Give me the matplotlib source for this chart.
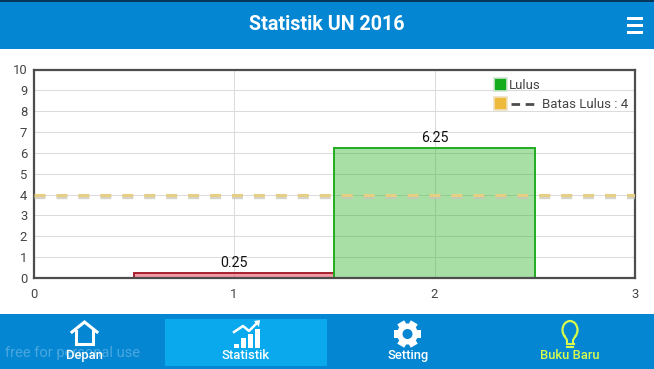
import matplotlib
matplotlib.use("Agg")
import matplotlib.pyplot as plt
from matplotlib.patches import Rectangle, Polygon, Circle, Ellipse
from matplotlib.lines import Line2D
from matplotlib.transforms import ScaledTranslation, Affine2D
import numpy as np

plt.rcParams['font.family'] = ['Roboto', 'DejaVu Sans']
plt.rcParams['lines.scale_dashes'] = False

title = "Statistik UN 2016"
bar_positions = [1, 2]
bar_values = [0.25, 6.25]
bar_labels = ["0.25", "6.25"]
bar_fill = [(0.93, 0.20, 0.30, 0.50), (0.10, 0.68, 0.08, 0.38)]
bar_edge = ["#a5222f", "#22ad22"]
threshold = 4
x_ticks = [0, 1, 2, 3]
y_ticks = list(range(0, 11))
legend_labels = ["Lulus", "Batas Lulus : 4"]
tabs = ["Depan", "Statistik", "Setting", "Buku Baru"]
tab_x = [84, 246, 408, 570]
tab_colors = ["white", "white", "white", "#d6fb4e"]

W, H = 654, 369
fig = plt.figure(figsize=(W / 100, H / 100), dpi=100, facecolor="white")

# Chart
L, R, T, B = 33.5, 635, 69.5, 278
ax = fig.add_axes([L / W, 1 - B / H, (R - L) / W, (B - T) / H])
ax.set_xlim(0, 3)
ax.set_ylim(0, 10)
ax.set_xticks(x_ticks)
ax.set_yticks(y_ticks)
ax.grid(True, color="#dcdcdc", lw=0.75)
ax.set_axisbelow(True)
ax.tick_params(length=0, labelsize=9.4, labelcolor="#444444", pad=4.5)
ax.tick_params(axis="x", pad=7.5)
for s in ax.spines.values():
    s.set_color("#4d4d4d")
    s.set_linewidth(1.6)
ax.bar(bar_positions, bar_values, width=1, color=bar_fill, edgecolor=bar_edge, linewidth=1.4, zorder=2)
for xp, v, t in zip(bar_positions, bar_values, bar_labels):
    ax.annotate(t, (xp, v), xytext=(0, 2.2), textcoords="offset points", ha="center", va="bottom",
                fontsize=10.2, color="#111111", zorder=5)
shadow = ax.axhline(threshold, color="#c8c6b8", alpha=0.75, lw=2.4, ls=(0, (7.9, 7.9)),
                    dash_capstyle="butt", zorder=3)
shadow.set_transform(shadow.get_transform() + ScaledTranslation(0, -2.4 / 100, fig.dpi_scale_trans))
ax.axhline(threshold, color="#e6cf85", alpha=1.0, lw=2.2, ls=(0, (7.9, 7.9)), dash_capstyle="butt", zorder=4)

# Overlay (app chrome, legend)
ov = fig.add_axes([0, 0, 1, 1], facecolor="none")
ov.set_xlim(0, W)
ov.set_ylim(H, 0)
ov.axis("off")

BLUE = "#0486d2"
ov.add_patch(Rectangle((0, 0), W, 49, color=BLUE, lw=0))
ov.add_patch(Rectangle((0, 0), W, 1.5, color="#06365c", lw=0))
ov.text(327, 24, title, color="white", fontsize=14.2, fontweight="bold", ha="center", va="center")
for y in (18, 25, 32):
    ov.add_patch(Rectangle((627, y - 1.5), 16, 3, color="white", lw=0))

ov.add_patch(Rectangle((0, 314), W, 55, color=BLUE, lw=0))
ov.add_patch(Rectangle((165, 319), 162, 47, color="#0aa9ee", lw=0))

# Legend
ov.add_patch(Rectangle((494, 77.5), 13, 13, fc="#14ab1c", ec="#cfe6cf", lw=1.2))
ov.add_patch(Rectangle((494, 96.5), 13, 13, fc="#eeba3c", ec="#f0e2c0", lw=1.2))
ov.text(509, 85.5, legend_labels[0], fontsize=9.5, color="#444444", va="center", ha="left")
ov.add_line(Line2D([511, 537], [103.5, 103.5], color="#4d4d4d", lw=2.0, ls=(0, (6.2, 4.0)), dash_capstyle="butt"))
ov.text(542, 104, legend_labels[1], fontsize=9.5, color="#444444", va="center", ha="left")

# Watermark
ov.text(5, 353, "free for personal use", fontsize=10.6, color="#6fb9e6", alpha=0.65, va="center", ha="left")

# Tab labels
for t, xp, c in zip(tabs, tab_x, tab_colors):
    ov.text(xp, 355.5, t, fontsize=9.4, color=c, ha="center", va="center", fontweight="medium")

# Home icon
ov.add_line(Line2D([72, 84.5, 97], [332, 322, 332], color="white", lw=2.2, solid_joinstyle="miter"))
ov.add_line(Line2D([76, 76, 93, 93], [331, 344, 344, 331], color="white", lw=2.2, solid_joinstyle="miter"))

# Chart icon
for x0, top in zip([234, 241, 248, 254.5], [344, 338, 334, 329]):
    ov.add_patch(Rectangle((x0, top), 5, 347.5 - top, color="white", lw=0))
ov.add_line(Line2D([234, 243, 249, 257], [332, 326, 331, 323], color="white", lw=1.8))
ov.add_patch(Polygon([[254, 321], [260, 320], [259, 327]], color="white", lw=0))

# Gear icon
cx, cy = 407.5, 334
for a in np.arange(0, 180, 60):
    ov.add_patch(Rectangle((cx - 4, cy - 13.5), 8, 27, color="white", lw=0,
                           transform=Affine2D().rotate_deg_around(cx, cy, a + 30) + ov.transData))
ov.add_patch(Circle((cx, cy), 10.5, color="white", lw=0))
ov.add_patch(Circle((cx, cy), 5, color=BLUE, lw=0))

# Bulb icon
bc = tab_colors[3]
ov.add_patch(Ellipse((570, 330), 15, 18, fc="none", ec=bc, lw=1.6))
ov.add_patch(Rectangle((566, 336), 8, 8, color=BLUE, lw=0))
ov.add_line(Line2D([564.5, 567, 567], [336, 340, 343], color=bc, lw=1.5))
ov.add_line(Line2D([575.5, 573, 573], [336, 340, 343], color=bc, lw=1.5))
ov.add_line(Line2D([566.5, 573.5], [343.5, 343.5], color=bc, lw=1.5))
ov.add_line(Line2D([567, 573], [346.5, 346.5], color=bc, lw=1.5))

fig.savefig("out.png", dpi=100, facecolor="white")
